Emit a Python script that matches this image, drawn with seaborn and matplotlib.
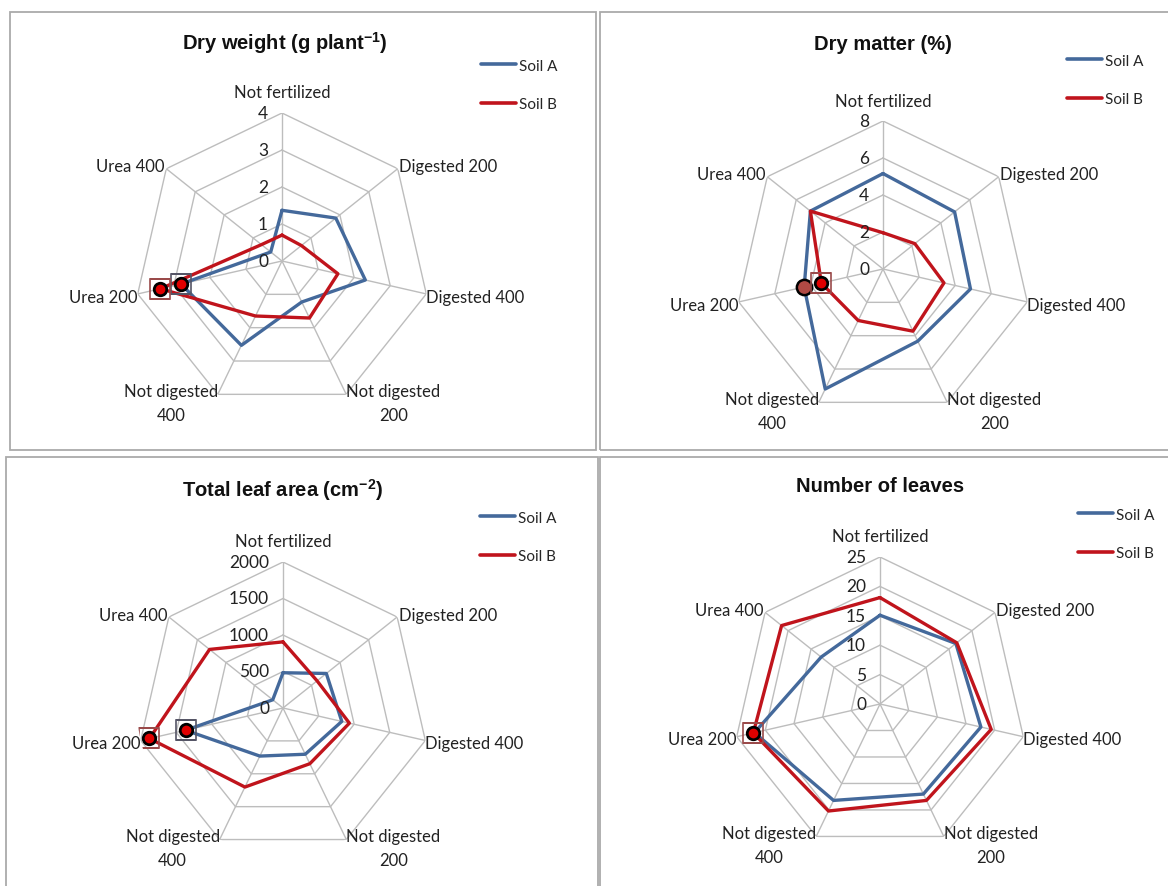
import numpy as np
import pandas as pd
import matplotlib
matplotlib.use("Agg")
import matplotlib.pyplot as plt
from matplotlib.lines import Line2D
from matplotlib.patches import Rectangle
import seaborn as sns

# dados
categories = ["Not fertilized", "Digested 200", "Digested 400", "Not digested\n200",
              "Not digested\n400", "Urea 200", "Urea 400"]
series_names = ["Soil A", "Soil B"]

dry_weight_a = [1.37, 1.86, 2.31, 1.23, 2.53, 2.80, 0.39]
dry_weight_b = [0.70, 0.67, 1.55, 1.71, 1.65, 3.37, 0.71]
dry_matter_a = [5.16, 4.95, 4.85, 4.33, 7.20, 4.37, 5.02]
dry_matter_b = [1.96, 2.20, 3.38, 3.73, 3.09, 3.42, 5.02]
leaf_area_a = [483, 759, 826, 703, 731, 1369, 180]
leaf_area_b = [906, 597, 933, 847, 1202, 1876, 1287]
leaves_a = [15.1, 16.5, 17.6, 17.0, 18.2, 21.9, 12.8]
leaves_b = [18.1, 16.7, 19.4, 18.2, 20.2, 22.1, 21.4]

titles = ["Dry weight (g plant$^{\\mathbf{-1}}$)", "Dry matter (%)",
          "Total leaf area (cm$^{\\mathbf{-2}}$)", "Number of leaves"]
ticks_list = [[0, 1, 2, 3, 4], [0, 2, 4, 6, 8], [0, 500, 1000, 1500, 2000], [0, 5, 10, 15, 20, 25]]

# cores
BLUE = "#44699B"
RED = "#C0141C"
GRID = "#BDBDBD"

W, H = 1168, 887
sns.set_theme(style="white")
plt.rcParams["font.family"] = ["Lato", "DejaVu Sans"]
plt.rcParams["mathtext.fontset"] = "custom"
plt.rcParams["mathtext.bf"] = "Liberation Sans:bold"
plt.rcParams["mathtext.rm"] = "Liberation Sans"

fig = plt.figure(figsize=(W / 100, H / 100), dpi=100)
fig.patch.set_facecolor("white")

# molduras dos paineis (pixels)
panels = [(10, 13, 586, 438), (600, 13, 580, 438), (6, 458, 592, 440), (600, 458, 580, 440)]
for x0, y0, w, h in panels:
    fig.patches.append(Rectangle((x0 / W, 1 - (y0 + h) / H), w / W, h / H,
                                 transform=fig.transFigure, fill=False,
                                 edgecolor="#AAAAAA", lw=1.3))

# centro e raio de cada radar (pixels)
layout = [(282, 262, 148), (883, 270, 148), (283, 709, 146), (880, 705, 147)]
title_pos = [(285, 43), (883, 45), (283, 490), (880, 487)]
legend_pos = [(481, 86), (1067, 81), (480, 538), (1078, 535)]

data_sets = [(dry_weight_a, dry_weight_b), (dry_matter_a, dry_matter_b),
             (leaf_area_a, leaf_area_b), (leaves_a, leaves_b)]

n = len(categories)
angles = np.linspace(0, 2 * np.pi, n, endpoint=False)
closed = np.append(angles, angles[0])

for i, ((va, vb), ticks) in enumerate(zip(data_sets, ticks_list)):
    cx, cy, R = layout[i]
    ax = fig.add_axes([(cx - R) / W, 1 - (cy + R) / H, 2 * R / W, 2 * R / H],
                      projection="polar")
    ax.set_theta_zero_location("N")
    ax.set_theta_direction(-1)
    rmax = ticks[-1]
    ax.set_ylim(0, rmax)
    ax.grid(False)
    ax.spines["polar"].set_visible(False)
    ax.set_xticks([])
    ax.set_yticks([])
    ax.patch.set_alpha(0)

    # grade em heptagono
    for t in ticks[1:]:
        ax.plot(closed, [t] * len(closed), color=GRID, lw=1.0, zorder=1)
    for a in angles:
        ax.plot([a, a], [0, rmax], color=GRID, lw=1.0, zorder=1)
    for t in ticks:
        ax.annotate(str(t), xy=(0, t), xytext=(-10, 0), textcoords="offset points",
                    ha="right", va="center", fontsize=12.5, color="#222222", zorder=5)

    # series
    df = pd.DataFrame({
        "theta": np.concatenate([closed, closed]),
        "value": list(va) + [va[0]] + list(vb) + [vb[0]],
        "soil": ["Soil A"] * (n + 1) + ["Soil B"] * (n + 1),
    })
    sns.lineplot(data=df, x="theta", y="value", hue="soil", sort=False, estimator=None,
                 palette=[BLUE, RED], lw=2.4, ax=ax, legend=False, zorder=3)
    ax.set_xlabel("")
    ax.set_ylabel("")

    # marcadores em Urea 200
    k = categories.index("Urea 200")
    if i == 1:
        ax.plot(angles[k], va[k], "o", ms=11, mfc="#B04A44", mec="black", mew=1.8, zorder=4)
    elif i != 3:
        ax.plot(angles[k], va[k], "s", ms=14, mfc="none", mec="#555566", mew=1.2, zorder=4)
        ax.plot(angles[k], va[k], "o", ms=9, mfc="#E00000", mec="black", mew=2, zorder=4)
    ax.plot(angles[k], vb[k], "s", ms=14, mfc="none", mec="#9A4A4A", mew=1.2, zorder=4)
    ax.plot(angles[k], vb[k], "o", ms=9, mfc="#E00000", mec="black", mew=2, zorder=4)

    # rotulos das categorias
    for a, lab in zip(angles, categories):
        deg = np.degrees(a)
        if deg < 1:
            ha, vav, off = "center", "bottom", (0, 9)
        elif deg < 90:
            ha, vav, off = "left", "bottom", (1, -4)
        elif deg < 130:
            ha, vav, off = "left", "center", (0, -2)
        elif deg < 180:
            ha, vav, off = "left", "top", (0, 8)
        elif deg < 230:
            ha, vav, off = "right", "top", (0, 8)
        elif deg < 270:
            ha, vav, off = "right", "center", (0, -2)
        else:
            ha, vav, off = "right", "bottom", (-1, -4)
        ax.annotate(lab, xy=(a, rmax), xytext=off, textcoords="offset points",
                    ha=ha, va=vav, fontsize=12, color="#222222",
                    multialignment="center", linespacing=1.6, annotation_clip=False)

    # titulo
    tx, ty = title_pos[i]
    fig.text(tx / W, 1 - ty / H, titles[i], ha="center", va="center",
             fontsize=14.5, fontweight="bold", family="Liberation Sans", color="#111111")

    # legenda
    lx, ly = legend_pos[i]
    handles = [Line2D([], [], color=BLUE, lw=2.6), Line2D([], [], color=RED, lw=2.6)]
    ax.legend(handles, series_names, loc="center left",
              bbox_to_anchor=(lx / W, 1 - ly / H), bbox_transform=fig.transFigure,
              frameon=False, fontsize=11, handlelength=2.3, handletextpad=0.2,
              labelspacing=1.6, borderpad=0, borderaxespad=0)

fig.savefig("out.png", dpi=100, facecolor="white")
